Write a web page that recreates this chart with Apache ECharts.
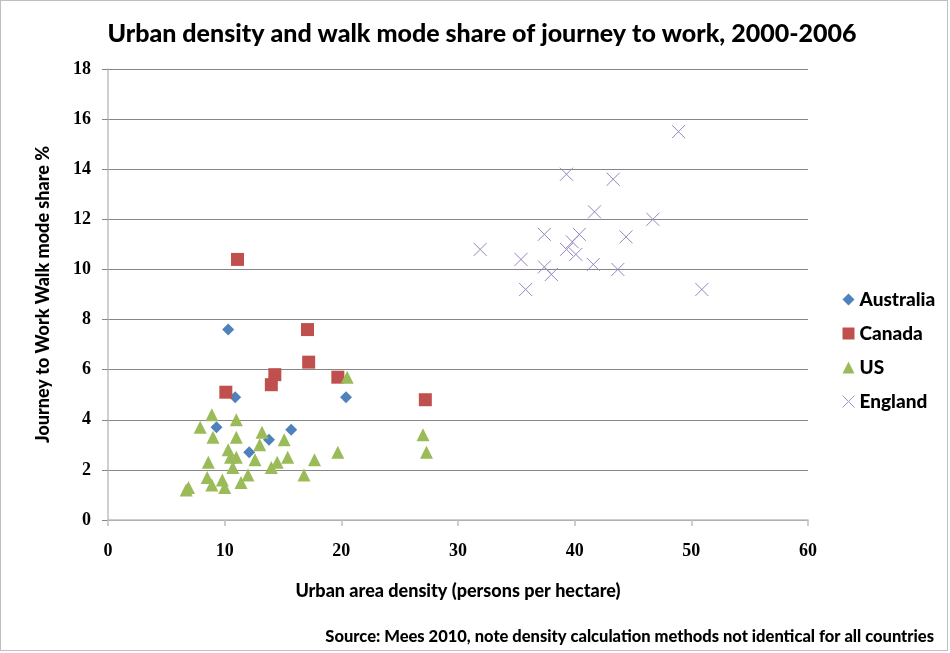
<!DOCTYPE html>
<html>
<head>
<meta charset="utf-8">
<script src="https://cdn.jsdelivr.net/npm/echarts@6/dist/echarts.min.js"></script>
<style>
  html, body { margin: 0; padding: 0; background: #fff; }
  #chart { position: absolute; left: 0; top: 0; width: 946px; height: 649px; border: 1px solid #bfbfbf; }
</style>
</head>
<body>
<div id="chart"></div>
<script>
// density (persons/ha), walk share %
const australia = [[10.3,7.6],[10.9,4.9],[20.4,4.9],[9.3,3.7],[15.7,3.6],[13.8,3.2],[12.1,2.7]];
const canada = [[11.1,10.4],[17.1,7.6],[17.2,6.3],[14.3,5.8],[14.0,5.4],[10.1,5.1],[19.7,5.7],[27.2,4.8]];
const us = [
  [20.5,5.7],[8.9,4.2],[11.0,4.0],[7.9,3.7],[9.0,3.3],[11.0,3.3],[13.2,3.5],[13.0,3.0],[15.1,3.2],
  [10.3,2.8],[10.5,2.5],[11.0,2.5],[12.6,2.4],[8.6,2.3],[10.7,2.1],[14.5,2.3],[15.4,2.5],[14.0,2.1],
  [8.5,1.7],[12.0,1.8],[9.8,1.6],[11.4,1.5],[8.9,1.4],[10.0,1.3],[6.9,1.3],[6.7,1.2],[16.8,1.8],
  [17.7,2.4],[19.7,2.7],[27.0,3.4],[27.3,2.7]
];
const england = [
  [48.9,15.5],[39.3,13.8],[43.3,13.6],[41.7,12.3],[46.7,12.0],[37.4,11.4],[40.4,11.4],[44.4,11.3],
  [31.9,10.8],[39.8,11.1],[39.3,10.8],[40.1,10.6],[35.4,10.4],[37.4,10.1],[38.0,9.8],[41.6,10.2],
  [43.7,10.0],[35.8,9.2],[50.9,9.2]
];
const xTicks = [0, 10, 20, 30, 40, 50, 60];
const yTicks = [0, 2, 4, 6, 8, 10, 12, 14, 16, 18];

const crossPath = 'path://M0,0L10,10M10,0L0,10';
const font = 'Lato, "Open Sans", sans-serif';
const tickFont = '"Liberation Serif", "DejaVu Serif", serif';

let chart = echarts.init(document.getElementById('chart'), null, { renderer: 'canvas' });

let option = {
  backgroundColor: '#fff',
  animation: false,
  textStyle: { fontFamily: font },
  title: {
    text: 'Urban density and walk mode share of journey to work, 2000-2006',
    left: 476, top: 15, textAlign: 'center',
    textStyle: { fontSize: 25, fontWeight: 900, color: '#000', fontFamily: font }
  },
  graphic: [{
    type: 'text', right: 13, top: 627,
    style: {
      text: 'Source: Mees 2010, note density calculation methods not identical for all countries',
      font: '900 16.5px ' + font, fill: '#000'
    }
  }],
  legend: {
    orient: 'vertical', left: 834, top: 284, itemGap: 15,
    itemWidth: 12, itemHeight: 12,
    textStyle: { fontSize: 19, fontWeight: 900, color: '#000', fontFamily: font },
    data: [
      { name: 'Australia', icon: 'diamond' },
      { name: 'Canada', icon: 'rect' },
      { name: 'US', icon: 'triangle' },
      { name: 'England', icon: crossPath, itemStyle: { color: 'none', borderColor: '#a58fc7', borderWidth: 1 } }
    ]
  },
  grid: { left: 107, top: 68, width: 700, height: 451 },
  xAxis: {
    type: 'value', min: xTicks[0], max: xTicks[xTicks.length - 1], interval: 10,
    name: 'Urban area density (persons per hectare)', nameLocation: 'middle', nameGap: 62,
    nameTextStyle: { fontSize: 18, fontWeight: 900, color: '#000', fontFamily: font },
    axisLine: { show: true, lineStyle: { color: '#bfbfbf', width: 1.5 } },
    axisTick: { show: true, length: 6, lineStyle: { color: '#bfbfbf', width: 1.5 } },
    axisLabel: { fontSize: 18, fontWeight: 'bold', color: '#000', margin: 22, fontFamily: tickFont },
    splitLine: { show: false }
  },
  yAxis: {
    type: 'value', min: yTicks[0], max: yTicks[yTicks.length - 1], interval: 2,
    name: 'Journey to Work Walk mode share %', nameLocation: 'middle', nameGap: 56,
    nameTextStyle: { fontSize: 18, fontWeight: 900, color: '#000', fontFamily: font },
    axisLine: { show: true, lineStyle: { color: '#bfbfbf', width: 1.5 } },
    axisTick: { show: true, length: 6, lineStyle: { color: '#868686' } },
    axisLabel: { fontSize: 18, fontWeight: 'bold', color: '#000', margin: 17, fontFamily: tickFont },
    splitLine: { show: true, lineStyle: { color: '#868686' } }
  },
  series: [
    { name: 'Australia', type: 'scatter', symbol: 'diamond', symbolSize: 12, data: australia,
      itemStyle: { color: '#4f81bd', opacity: 1 } },
    { name: 'Canada', type: 'scatter', symbol: 'rect', symbolSize: 13, data: canada,
      itemStyle: { color: '#c0504d', opacity: 1 } },
    { name: 'US', type: 'scatter', symbol: 'triangle', symbolSize: 13, data: us,
      itemStyle: { color: '#9bbb59', opacity: 1 } },
    { name: 'England', type: 'scatter', symbol: crossPath, symbolSize: 13, data: england,
      itemStyle: { color: 'none', borderColor: '#9a83c2', borderWidth: 1, opacity: 1 } }
  ]
};
chart.setOption(option);
</script>
</body>
</html>
